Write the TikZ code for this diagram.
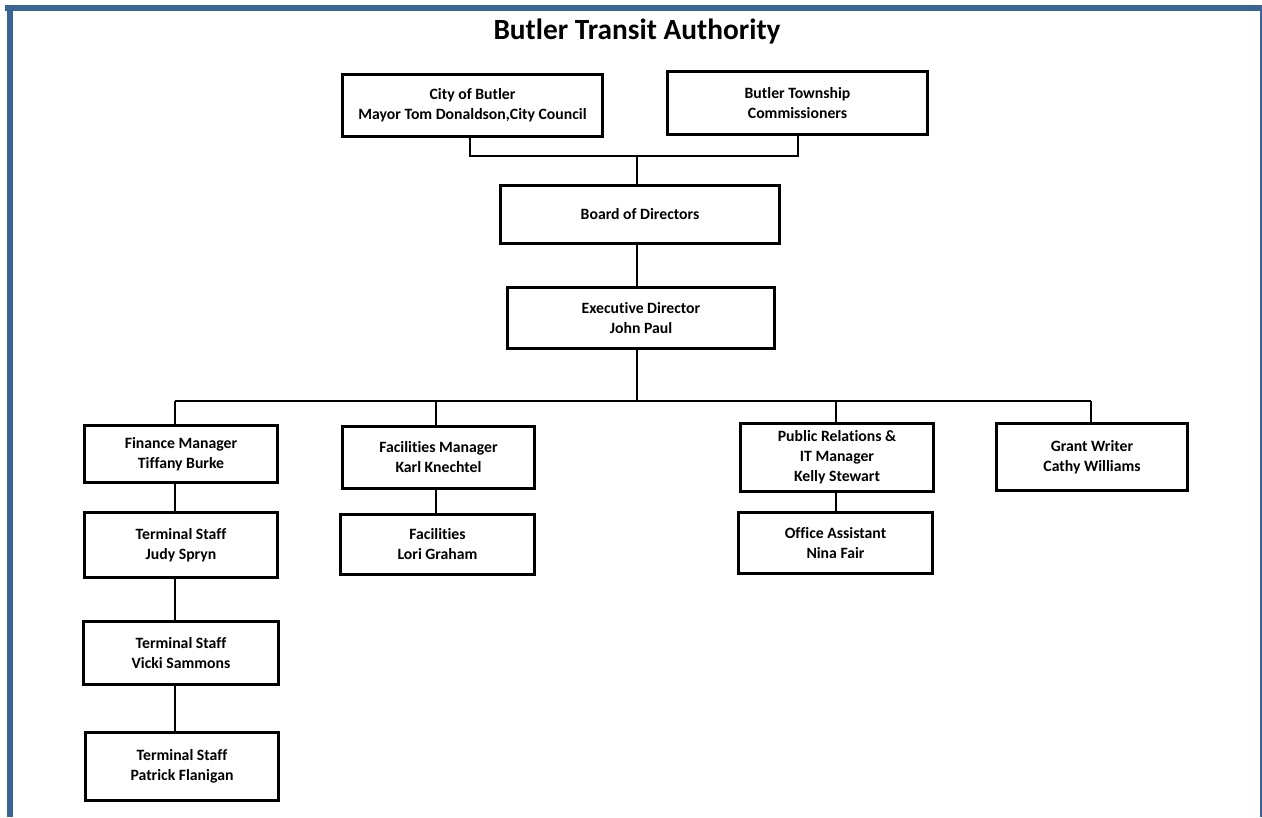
\documentclass[tikz,border=0pt]{standalone}
\usepackage{fontspec}
\setmainfont{Carlito}[Ligatures=NoCommon]
\definecolor{framecol}{HTML}{3A6496}
\begin{document}
\begin{tikzpicture}[x=0.75pt,y=-0.75pt,
  box/.style={draw, line width=2.3pt, align=center, inner sep=0pt,
    font=\fontsize{11.8}{15}\selectfont\bfseries},
  conn/.style={line width=1.5pt},
  thinconn/.style={line width=1.1pt}]
\useasboundingbox (0,0) rectangle (1262,817);
% frame
\fill[framecol] (5,5) rectangle (1262,11);
\fill[framecol] (7,5) rectangle (13,817);
\draw[framecol, line width=1.2pt] (1261,11) -- (1261,817);
% title
\node[font=\fontsize{22}{26}\selectfont\bfseries] (title) at (637,32) {Butler Transit Authority};
% boxes
\node[box, minimum width=195pt, minimum height=47pt] (city) at (472.5,105.5) {City of Butler\\Mayor Tom Donaldson,City Council};
\node[box, minimum width=195pt, minimum height=47.5pt] (town) at (797.5,103) {Butler Township\\Commissioners};
\node[box, minimum width=209.5pt, minimum height=44pt] (board) at (640,214.5) {Board of Directors};
\node[box, minimum width=200.5pt, minimum height=46pt] (exec) at (641,318) {Executive Director\\John Paul};
\node[box, minimum width=145pt, minimum height=43pt] (fin) at (181,454) {Finance Manager\\Tiffany Burke};
\node[box, minimum width=144.5pt, minimum height=47pt] (facm) at (438.5,457.5) {Facilities Manager\\Karl Knechtel};
\node[box, minimum width=145pt, minimum height=51.5pt] (pr) at (837,457.5) {Public Relations \&\\IT Manager\\Kelly Stewart};
\node[box, minimum width=143.5pt, minimum height=50.5pt] (grant) at (1092,457) {Grant Writer\\Cathy Williams};
\node[box, minimum width=145pt, minimum height=49pt] (judy) at (181,545) {Terminal Staff\\Judy Spryn};
\node[box, minimum width=146pt, minimum height=45.5pt] (lori) at (437.5,544.5) {Facilities\\Lori Graham};
\node[box, minimum width=146pt, minimum height=46pt] (office) at (835.5,543) {Office Assistant\\Nina Fair};
\node[box, minimum width=146.5pt, minimum height=47.5pt] (vicki) at (181,653) {Terminal Staff\\Vicki Sammons};
\node[box, minimum width=145pt, minimum height=51.5pt] (patrick) at (182,766.5) {Terminal Staff\\Patrick Flanigan};
% junction coordinates
\coordinate (tl) at (470,156);
\coordinate (tr) at (798,156);
\coordinate (cj) at (637,156);
\coordinate (bj) at (637,401);
\coordinate (b1) at (175,401);
\coordinate (b2) at (436,401);
\coordinate (b3) at (836,401);
\coordinate (b4) at (1091,401);
% connectors
\draw[thinconn] (city.south -| tl) -- (tl) -- (tr) -- (town.south -| tr);
\draw[conn] (cj) -- (board.north -| cj);
\draw[conn] (board.south -| cj) -- (exec.north -| cj);
\draw[conn] (exec.south -| cj) -- (bj);
\draw[thinconn] (b1) -- (b4);
\draw[conn] (b1) -- (fin.north -| b1);
\draw[conn] (b2) -- (facm.north -| b2);
\draw[conn] (b3) -- (pr.north -| b3);
\draw[conn] (b4) -- (grant.north -| b4);
\draw[conn] (fin.south -| b1) -- (judy.north -| b1);
\draw[conn] (judy.south -| b1) -- (vicki.north -| b1);
\draw[conn] (vicki.south -| b1) -- (patrick.north -| b1);
\draw[conn] (facm.south -| b2) -- (lori.north -| b2);
\draw[conn] (pr.south -| b3) -- (office.north -| b3);
\end{tikzpicture}
\end{document}
